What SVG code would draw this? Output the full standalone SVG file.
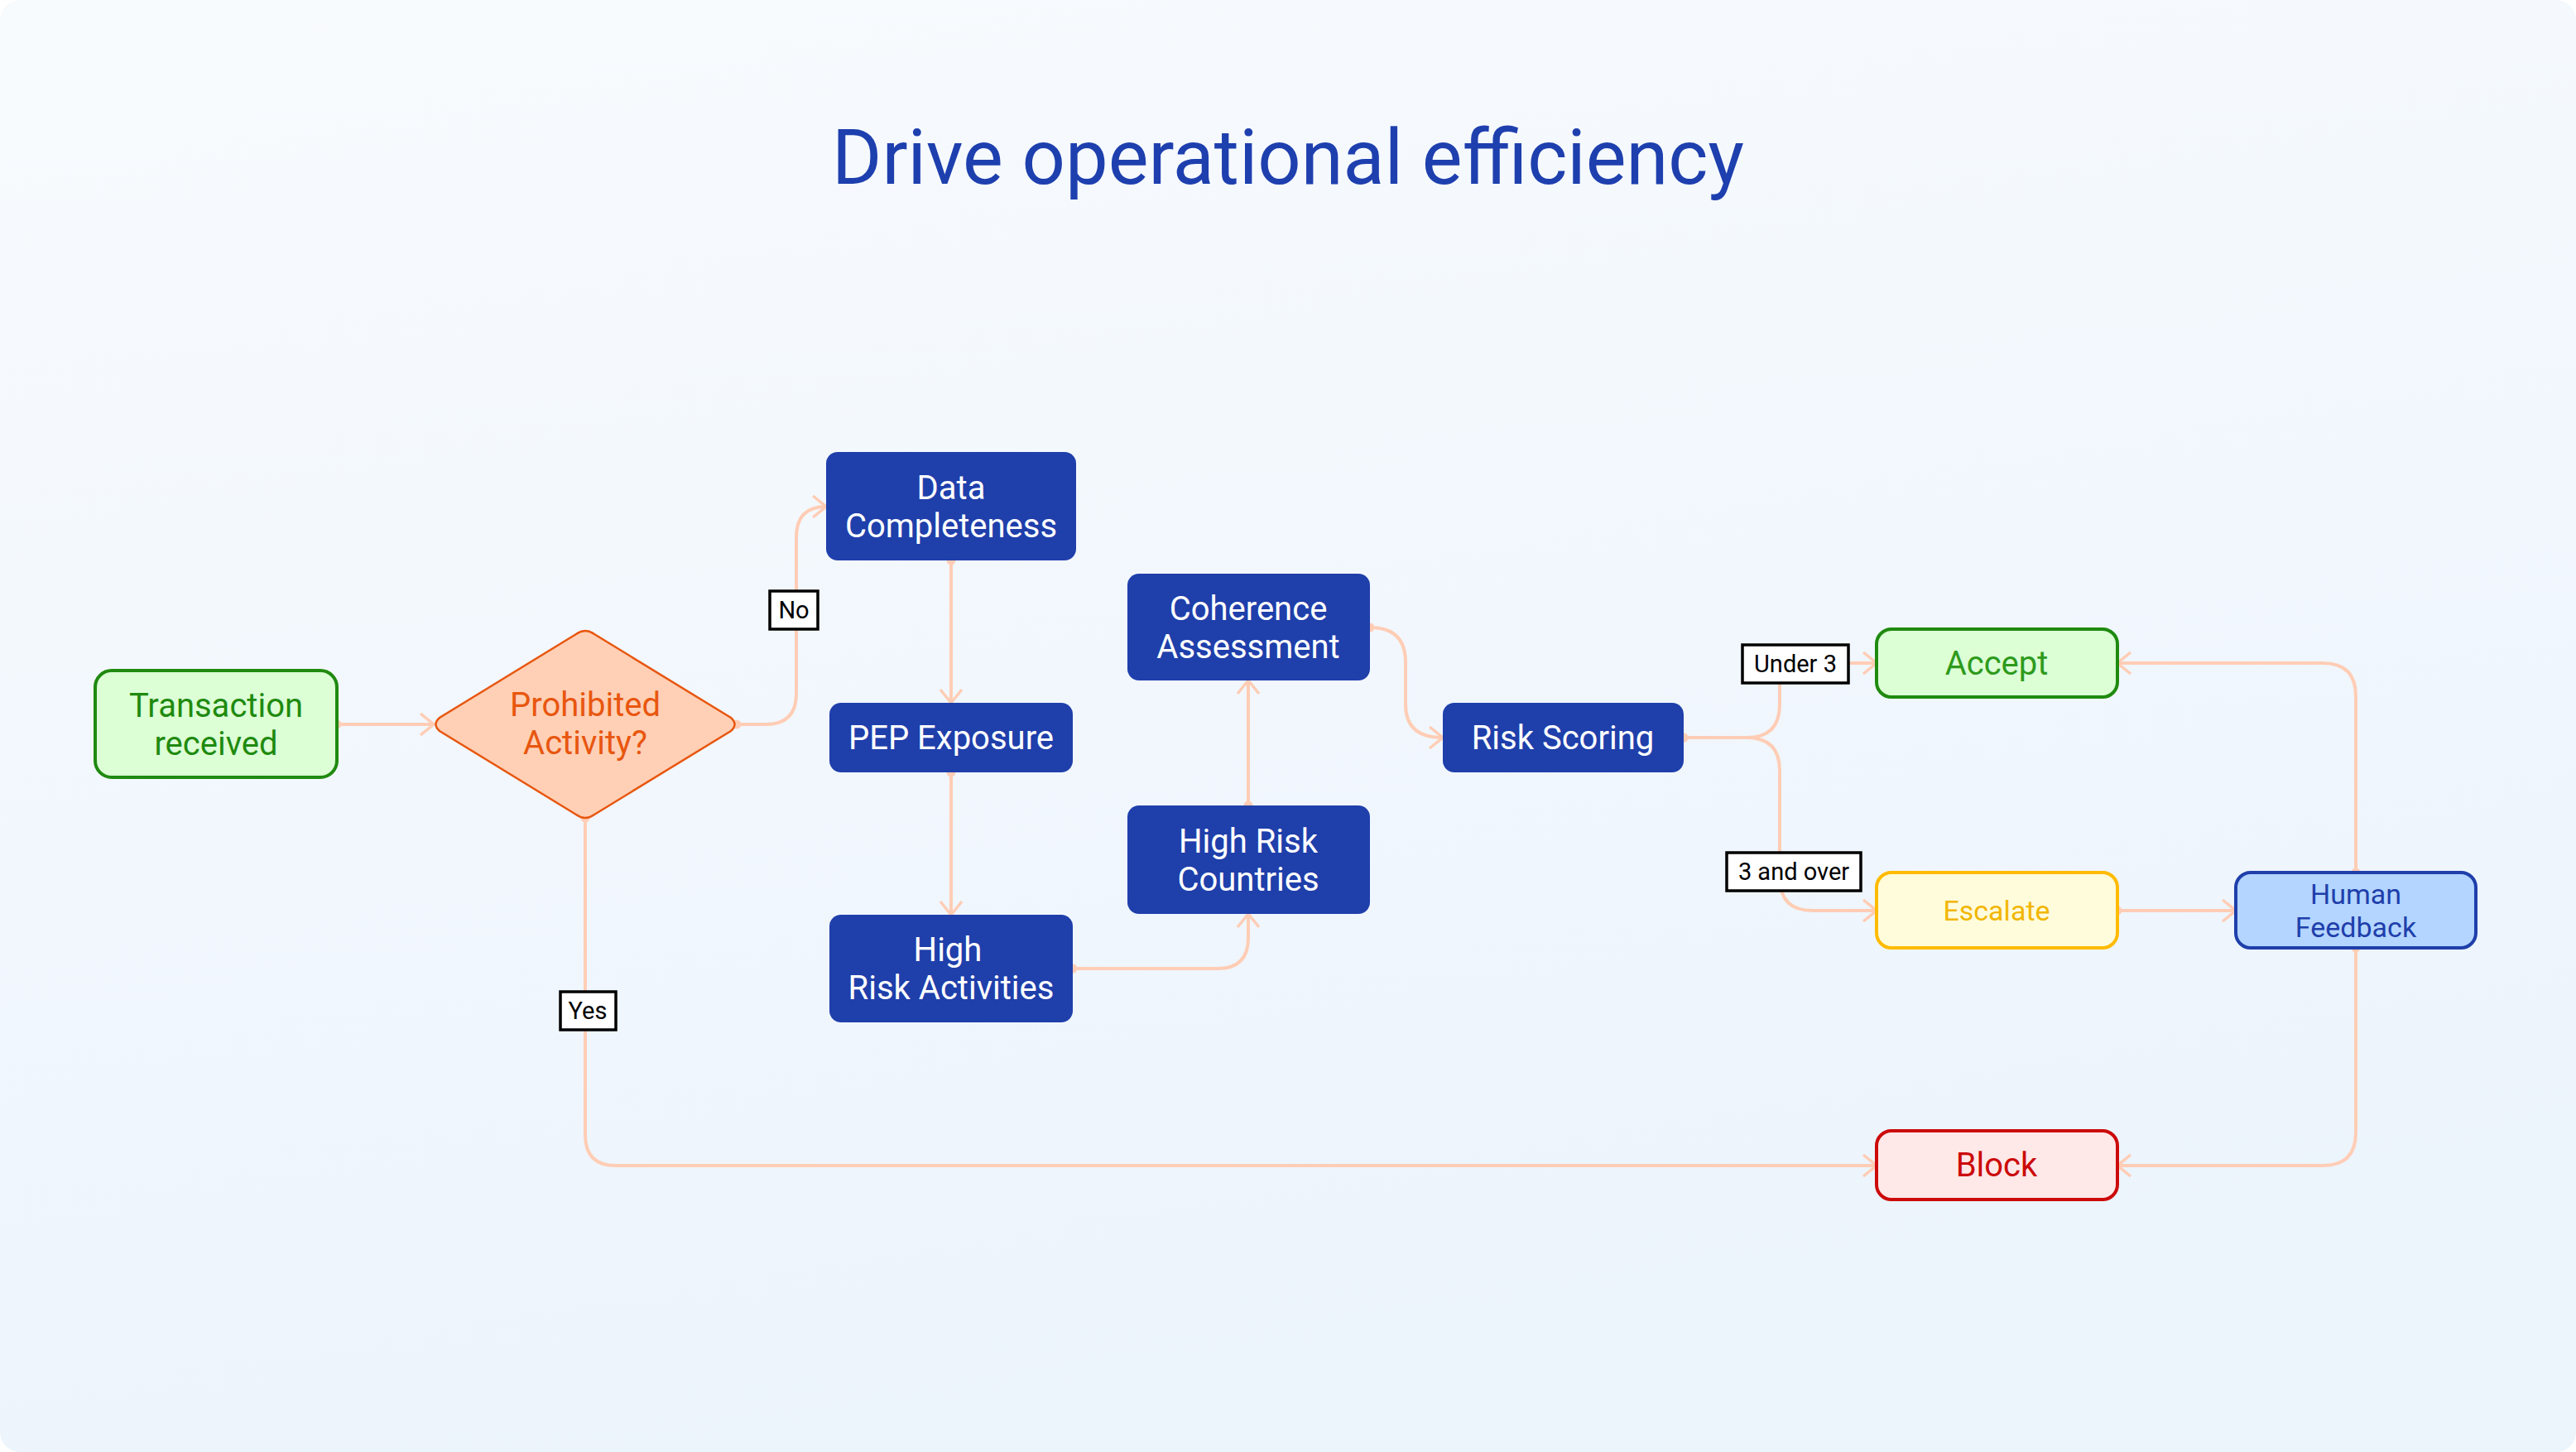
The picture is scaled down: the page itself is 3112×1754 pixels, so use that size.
<svg xmlns="http://www.w3.org/2000/svg" width="3112" height="1754" viewBox="0 0 3112 1754">
<defs>
<linearGradient id="bg" x1="0" y1="0" x2="0.3" y2="1"><stop offset="0" stop-color="#f8fbfe"/><stop offset="1" stop-color="#ecf4fc"/></linearGradient>
<marker id="arr" viewBox="0 0 20 30" refX="18" refY="15" markerWidth="20" markerHeight="30" markerUnits="userSpaceOnUse" orient="auto"><path d="M2 2 L18 15 L2 28" fill="none" stroke="#ffcdb5" stroke-width="3.5"/></marker>
<marker id="dot" viewBox="0 0 12 12" refX="6" refY="6" markerWidth="12" markerHeight="12" markerUnits="userSpaceOnUse"><circle cx="6" cy="6" r="5.5" fill="#ffcdb5"/></marker>
<style>
text{font-family:Roboto,"Liberation Sans",sans-serif;text-anchor:middle}
.blue rect{fill:#1f3fab}
.blue text{fill:#fff;font-size:40px}
.c{fill:none;stroke:#ffcdb5;stroke-width:4;marker-start:url(#dot);marker-end:url(#arr)}
.lb rect{fill:#fff;stroke:#000;stroke-width:3.5}
.lb text{font-size:29px;fill:#000}
</style>
</defs>
<rect width="3112" height="1754" rx="24" fill="url(#bg)"/>
<text x="1556" y="222" font-size="92" fill="#1e3fae">Drive operational efficiency</text>
<g id="connectors">
<path class="c" d="M407 875 H524"/>
<path class="c" d="M890 875 H925 Q962 875 962 838 V649 Q962 612 998 612"/>
<path class="c" d="M707 988 V1371 Q707 1408 744 1408 H2267"/>
<path class="c" d="M1149 677 V849"/>
<path class="c" d="M1149 933 V1105"/>
<path class="c" d="M1296 1170 H1471 Q1508 1170 1508 1133 V1104"/>
<path class="c" d="M1508 973 V822"/>
<path class="c" d="M1655 758 Q1698 758 1698 800 V851 Q1698 891 1743 891"/>
<path class="c" d="M2034 891 H2110 Q2150 891 2150 851 V801 H2267"/>
<path class="c" d="M2034 891 H2110 Q2150 891 2150 931 V1060 Q2150 1100 2190 1100 H2267"/>
<path class="c" d="M2558 1100 H2701"/>
<path class="c" d="M2846 1054 V841 Q2846 801 2806 801 H2558"/>
<path class="c" d="M2846 1145 V1368 Q2846 1408 2806 1408 H2558"/>
<g class="lb"><rect x="930" y="714" width="58" height="46"/><text x="959" y="747">No</text></g>
<g class="lb"><rect x="677" y="1198" width="67" height="46"/><text x="710" y="1231">Yes</text></g>
<g class="lb"><rect x="2105" y="779" width="128" height="46"/><text x="2169" y="812">Under 3</text></g>
<g class="lb"><rect x="2086" y="1030" width="162" height="46"/><text x="2167" y="1063">3 and over</text></g>
</g>
<g id="transaction"><rect x="115" y="810" width="292" height="129" rx="20" fill="#dcffd6" stroke="#1f8a0f" stroke-width="4"/><text x="261" y="866" font-size="40" fill="#1f8a0f">Transaction</text><text x="261" y="912" font-size="40" fill="#1f8a0f">received</text></g>
<g id="prohibited"><path d="M696 766 Q707 758 718 766 L883 867 Q892 875 883 883 L718 984 Q707 992 696 984 L531 883 Q522 875 531 867 Z" fill="#ffd0b5" stroke="#e8560f" stroke-width="2.5"/><text x="707" y="865" font-size="40" fill="#e8560f">Prohibited</text><text x="707" y="911" font-size="40" fill="#e8560f">Activity?</text></g>
<g id="data" class="blue"><rect x="998" y="546" width="302" height="131" rx="14"/><text x="1149" y="603">Data</text><text x="1149" y="649">Completeness</text></g>
<g id="pep" class="blue"><rect x="1002" y="849" width="294" height="84" rx="14"/><text x="1149" y="905">PEP Exposure</text></g>
<g id="hra" class="blue"><rect x="1002" y="1105" width="294" height="130" rx="14"/><text x="1145" y="1161">High</text><text x="1149" y="1207">Risk Activities</text></g>
<g id="hrc" class="blue"><rect x="1362" y="973" width="293" height="131" rx="14"/><text x="1508" y="1030">High Risk</text><text x="1508" y="1076">Countries</text></g>
<g id="coherence" class="blue"><rect x="1362" y="693" width="293" height="129" rx="14"/><text x="1508" y="749">Coherence</text><text x="1508" y="795">Assessment</text></g>
<g id="scoring" class="blue"><rect x="1743" y="849" width="291" height="84" rx="14"/><text x="1888" y="905">Risk Scoring</text></g>
<g id="accept"><rect x="2267" y="760" width="291" height="82" rx="18" fill="#dcffd6" stroke="#1f8a0f" stroke-width="4"/><text x="2412" y="815" font-size="40" fill="#2e9a1c">Accept</text></g>
<g id="escalate"><rect x="2267" y="1054" width="291" height="91" rx="18" fill="#fffcdc" stroke="#ffbb00" stroke-width="4"/><text x="2412" y="1112" font-size="34" fill="#f2b600">Escalate</text></g>
<g id="human"><rect x="2701" y="1054" width="290" height="91" rx="18" fill="#b3d5ff" stroke="#1f3fab" stroke-width="4"/><text x="2846" y="1092" font-size="34" fill="#1f3fab">Human</text><text x="2846" y="1132" font-size="34" fill="#1f3fab">Feedback</text></g>
<g id="block"><rect x="2267" y="1366" width="291" height="83" rx="18" fill="#ffe8e8" stroke="#cc0a0a" stroke-width="4"/><text x="2412" y="1421" font-size="40" fill="#cc0a0a">Block</text></g>
</svg>
